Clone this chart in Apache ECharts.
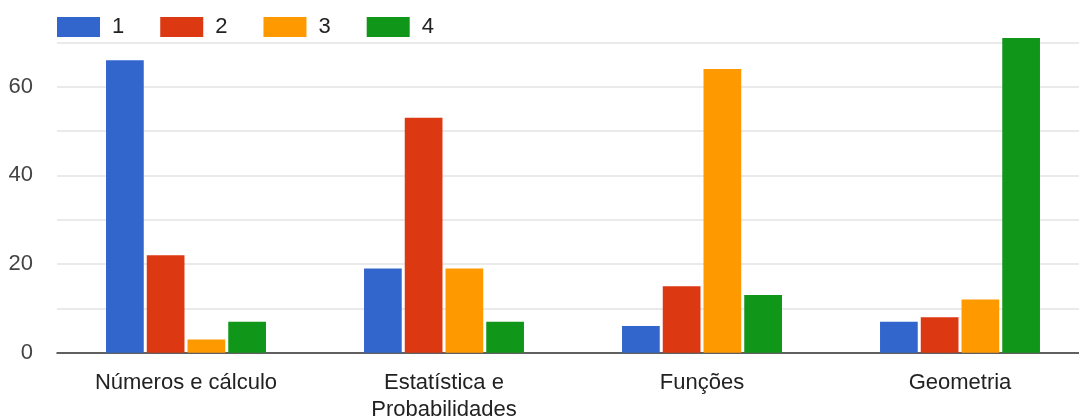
<!DOCTYPE html>
<html>
<head>
<meta charset="utf-8">
<script src="https://cdn.jsdelivr.net/npm/echarts@6/dist/echarts.min.js"></script>
<style>
  html, body { margin: 0; padding: 0; background: #fff; }
  #chart { width: 1079px; height: 418px; }
</style>
</head>
<body>
<div id="chart"></div>
<script>
// Topic areas along the x axis
const categories = ['Números e cálculo', 'Estatística e\nProbabilidades', 'Funções', 'Geometria'];
// Answer counts for each rating option
const series1 = [66, 19, 6, 7];
const series2 = [22, 53, 15, 8];
const series3 = [3, 19, 64, 12];
const series4 = [7, 7, 13, 71];
const seriesNames = ['1', '2', '3', '4'];
const yTicks = [0, 10, 20, 30, 40, 50, 60, 70];

const colors = ['#3366cc', '#dc3912', '#ff9900', '#109618'];
const font = 'Arial, "Liberation Sans", sans-serif';

const chart = echarts.init(document.getElementById('chart'), null, { renderer: 'canvas' });

const values = [series1, series2, series3, series4];

chart.setOption({
  animation: false,
  color: colors,
  textStyle: { fontFamily: font },
  legend: {
    left: 52,
    top: 11,
    itemWidth: 43,
    itemHeight: 20,
    itemGap: 36,
    icon: 'rect',
    data: seriesNames,
    textStyle: { fontFamily: font, fontSize: 22, color: '#222', padding: [0, 0, 0, 7] }
  },
  // the plot area runs a little past the right edge of the canvas
  grid: { left: 57, right: -10, top: 42.4, bottom: 65.3, containLabel: false, outerBoundsMode: 'none' },
  xAxis: {
    type: 'category',
    data: categories,
    axisLine: { lineStyle: { color: '#333', width: 1.5 } },
    axisTick: { show: false },
    axisLabel: {
      fontFamily: font, fontSize: 22, color: '#222', margin: 17, lineHeight: 27,
      interval: 0
    }
  },
  yAxis: {
    type: 'value',
    min: yTicks[0],
    max: yTicks[yTicks.length - 1],
    interval: 10,
    axisLine: { show: false },
    axisTick: { show: false },
    splitLine: { lineStyle: { color: '#e3e3e3', width: 1.5 } },
    axisLabel: {
      fontFamily: font, fontSize: 22, color: '#444', margin: 24,
      formatter: v => (v % 20 === 0 ? String(v) : '')
    }
  },
  series: seriesNames.map((name, i) => ({
    name,
    type: 'bar',
    data: values[i],
    clip: false,
    barGap: '8%',
    barCategoryGap: '38%',
    itemStyle: { color: colors[i] }
  }))
});
</script>
</body>
</html>
